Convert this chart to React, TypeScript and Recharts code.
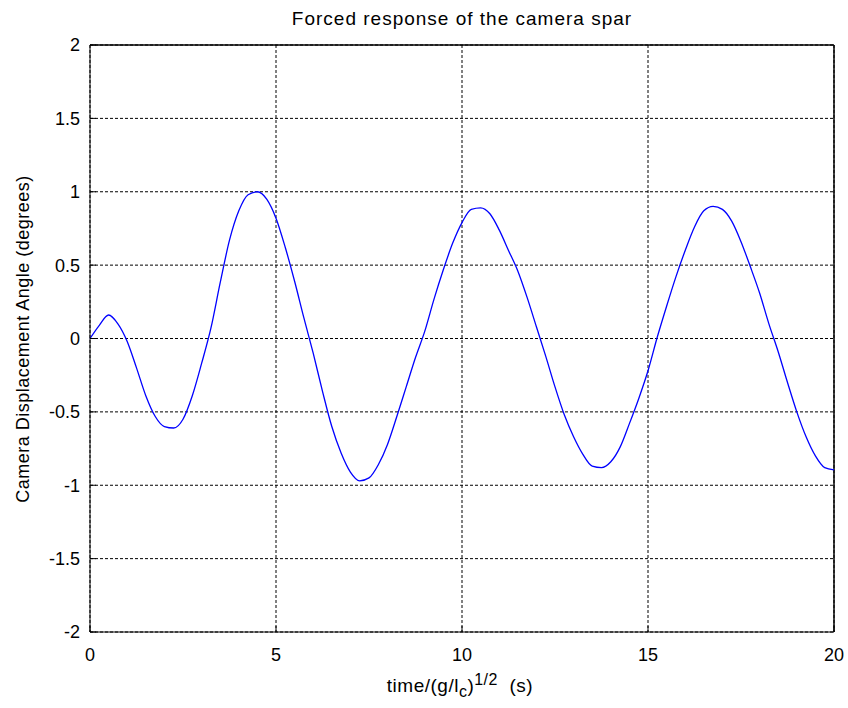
import { LineChart, Line, XAxis, YAxis, CartesianGrid, ReferenceLine } from 'recharts'

const times = [
  0, 0.25, 0.5, 0.75, 1, 1.25, 1.5, 1.75, 2, 2.25, 2.5, 2.75, 3, 3.25, 3.5, 3.75,
  4, 4.25, 4.5, 4.75, 5, 5.25, 5.5, 5.75, 6, 6.25, 6.5, 6.75, 7, 7.25, 7.5, 7.75,
  8, 8.25, 8.5, 8.75, 9, 9.25, 9.5, 9.75, 10, 10.25, 10.5, 10.75, 11, 11.25, 11.5, 11.75,
  12, 12.25, 12.5, 12.75, 13, 13.25, 13.5, 13.75, 14, 14.25, 14.5, 14.75, 15, 15.25, 15.5, 15.75,
  16, 16.25, 16.5, 16.75, 17, 17.25, 17.5, 17.75, 18, 18.25, 18.5, 18.75, 19, 19.25, 19.5, 19.75, 20,
]

const angle = [
  0, 0.09, 0.16, 0.1, -0.02, -0.2, -0.39, -0.53, -0.6, -0.61, -0.55, -0.39, -0.17, 0.07, 0.38, 0.67,
  0.87, 0.98, 1.0, 0.95, 0.82, 0.62, 0.39, 0.14, -0.1, -0.36, -0.6, -0.78, -0.91, -0.97, -0.95, -0.86,
  -0.72, -0.53, -0.33, -0.13, 0.05, 0.27, 0.47, 0.65, 0.79, 0.88, 0.89, 0.85, 0.74, 0.6, 0.46, 0.28,
  0.08, -0.12, -0.33, -0.52, -0.67, -0.79, -0.87, -0.88, -0.84, -0.74, -0.58, -0.41, -0.22, 0.01, 0.22, 0.42,
  0.6, 0.76, 0.87, 0.9, 0.88, 0.8, 0.66, 0.49, 0.31, 0.1, -0.09, -0.3, -0.5, -0.67, -0.8, -0.88, -0.895,
]

const xTicks = [0, 5, 10, 15, 20]
const yTicks = [-2, -1.5, -1, -0.5, 0, 0.5, 1, 1.5, 2]

const data = times.map((t, i) => ({ t, v: angle[i] }))

const font = '"Liberation Sans", Arial, sans-serif'
const tickStyle = { fontSize: 18, fill: '#000', fontFamily: font }

export default function App() {
  return (
    <div style={{ position: 'absolute', left: 0, top: 0, width: 848, height: 708, background: '#fff', fontFamily: font }}>
      <LineChart width={848} height={708} data={data} margin={{ top: 45, right: 14, bottom: 0, left: 0 }}>
        <CartesianGrid xAxisId="b" yAxisId="l" stroke="#000" strokeDasharray="3 2" strokeWidth={1} />
        <XAxis
          dataKey="t"
          type="number"
          domain={[0, 20]}
          ticks={xTicks}
          xAxisId="b"
          height={76}
          stroke="#000"
          tickSize={-6}
          tickMargin={22}
          tick={tickStyle}
        />
        <XAxis
          dataKey="t"
          type="number"
          domain={[0, 20]}
          ticks={xTicks}
          xAxisId="t"
          orientation="top"
          height={0}
          stroke="#000"
          tickSize={-6}
          tick={false}
        />
        <YAxis
          type="number"
          domain={[-2, 2]}
          ticks={yTicks}
          yAxisId="l"
          width={90}
          stroke="#000"
          tickSize={-6}
          tickMargin={16}
          tick={tickStyle}
        />
        <YAxis
          type="number"
          domain={[-2, 2]}
          ticks={yTicks}
          yAxisId="r"
          orientation="right"
          width={0}
          stroke="#000"
          tickSize={-6}
          tick={false}
        />
        <ReferenceLine xAxisId="b" yAxisId="l" y={2} stroke="#000" strokeWidth={1.5} />
        <ReferenceLine xAxisId="b" yAxisId="l" x={20} stroke="#000" strokeWidth={1.5} />
        <Line
          xAxisId="b"
          yAxisId="l"
          dataKey="v"
          type="monotone"
          stroke="#0000ff"
          strokeWidth={1.3}
          dot={false}
          isAnimationActive={false}
        />
      </LineChart>
      <div style={{ position: 'absolute', left: 262, top: 8, width: 400, textAlign: 'center', fontSize: 19, letterSpacing: 1 }}>
        Forced response of the camera spar
      </div>
      <div style={{ position: 'absolute', left: 260, top: 671, width: 400, textAlign: 'center', fontSize: 19, letterSpacing: 0.5 }}>
        time/(g/l<sub style={{ fontSize: 16 }}>c</sub>)<sup style={{ fontSize: 16 }}>1/2</sup>&nbsp; (s)
      </div>
      <div
        style={{
          position: 'absolute',
          left: 23 - 200,
          top: 339 - 12,
          width: 400,
          height: 24,
          lineHeight: '24px',
          textAlign: 'center',
          fontSize: 18,
          letterSpacing: 0.5,
          transform: 'rotate(-90deg)',
        }}
      >
        Camera Displacement Angle (degrees)
      </div>
    </div>
  )
}
